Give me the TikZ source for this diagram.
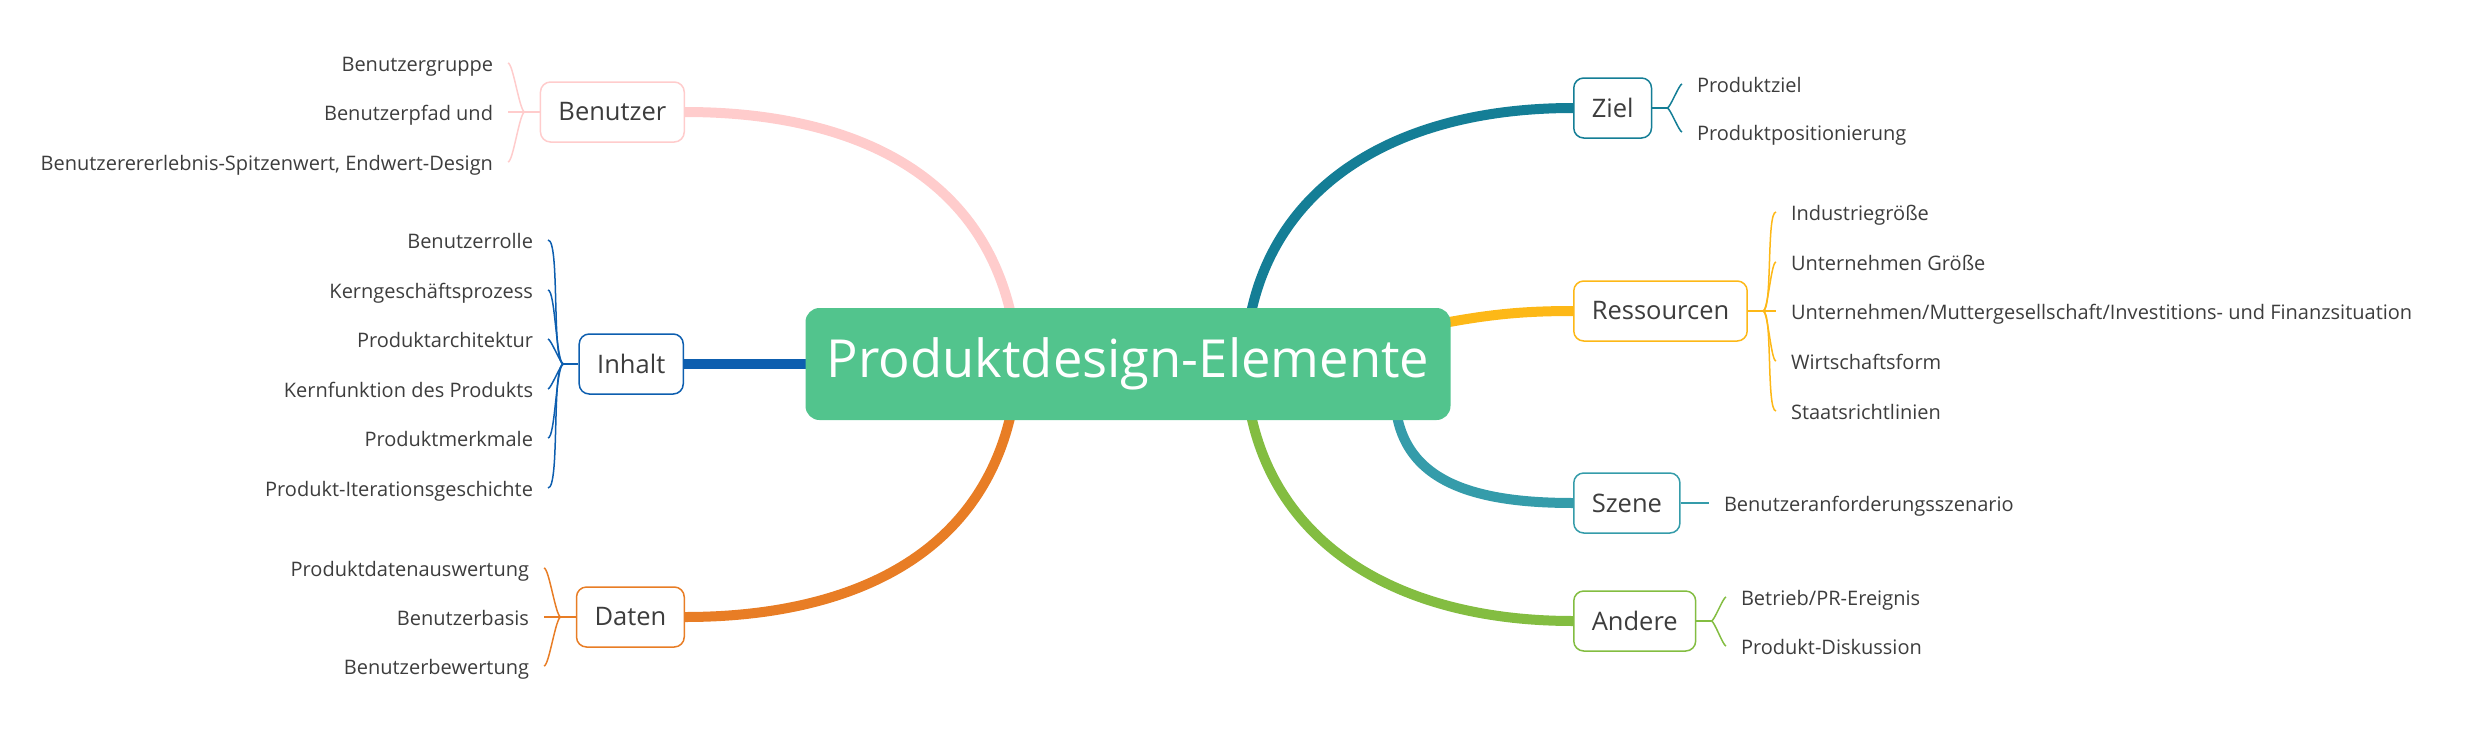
\documentclass[tikz,border=0pt]{standalone}
\usepackage{fontspec}
\setmainfont{Open Sans}
\usetikzlibrary{calc,backgrounds}

\definecolor{coregreen}{HTML}{52C48D}
\definecolor{inkgray}{HTML}{3D3D3D}
\definecolor{benutzerpink}{HTML}{FFCCCC}
\definecolor{inhaltblue}{HTML}{0D5EAF}
\definecolor{datenorange}{HTML}{E87D25}
\definecolor{zielteal}{HTML}{147E96}
\definecolor{ressourcengold}{HTML}{FDB817}
\definecolor{szenecyan}{HTML}{359CAA}
\definecolor{anderegreen}{HTML}{83BD41}

\tikzset{
  core/.style={fill=coregreen, text=white, rounded corners=14pt, minimum width=645pt, minimum height=112pt, font=\fontsize{52.5}{60}\selectfont},
  topic/.style={draw=#1, fill=white, text=inkgray, line width=1.5pt, rounded corners=10pt, minimum height=60pt, inner xsep=18pt, font=\fontsize{25.5}{30}\selectfont},
  ltopic/.style={topic=#1, anchor=east},
  rtopic/.style={topic=#1, anchor=west},
  leaf/.style={text=inkgray, inner sep=0pt, outer xsep=15pt, text height=19pt, text depth=2pt, font=\fontsize{20}{24}\selectfont},
  lleaf/.style={leaf, anchor=east},
  rleaf/.style={leaf, anchor=west},
  branch/.style={draw=#1, line width=10pt, line cap=round},
  twig/.style={draw=#1, line width=1.5pt},
  lfork/.style={out=180, in=0, looseness=0.25},
  rfork/.style={out=0, in=180, looseness=0.25},
}

\begin{document}
\begin{tikzpicture}[x=1pt,y=-1pt]
\useasboundingbox (0,0) rectangle (2478,744);

\node[core] (core) at (1128,364) {Produktdesign-Elemente};

\node[ltopic=benutzerpink] (benutzer) at (685,112) {Benutzer};
\node[ltopic=inhaltblue] (inhalt) at (684,364) {Inhalt};
\node[ltopic=datenorange] (daten) at (685,617) {Daten};
\node[rtopic=zielteal] (ziel) at (1573,108) {Ziel};
\node[rtopic=ressourcengold] (ressourcen) at (1573,311) {Ressourcen};
\node[rtopic=szenecyan] (szene) at (1573,503) {Szene};
\node[rtopic=anderegreen] (andere) at (1573,621) {Andere};

% thick branches behind the boxes
\begin{scope}[on background layer]
\draw[branch=benutzerpink] ($(core.center)+(-110,0)$) .. controls +(-12,-184) and +(175,0) .. (benutzer.east);
\draw[branch=inhaltblue] (core.center) -- (inhalt.center);
\draw[branch=datenorange] ($(core.center)+(-110,0)$) .. controls +(-12,184) and +(175,0) .. (daten.east);
\draw[branch=zielteal] ($(core.center)+(117,0)$) .. controls +(5,-164) and +(-193,0) .. (ziel.west);
\draw[branch=ressourcengold] ($(core.center)+(290,-36)$) .. controls +(60,-12) and +(-60,0) .. (ressourcen.west);
\draw[branch=szenecyan] ($(core.center)+(267,36)$) .. controls +(5,80) and +(-103,0) .. (szene.west);
\draw[branch=anderegreen] ($(core.center)+(117,0)$) .. controls +(5,164) and +(-193,0) .. (andere.west);
\end{scope}

% Benutzer
\node[lleaf] (b1) at (508,63) {Benutzergruppe};
\node[lleaf] (b2) at (508,112) {Benutzerpfad und};
\node[lleaf] (b3) at (508,162) {Benutzerererlebnis-Spitzenwert, Endwert-Design};
\coordinate (bsplit) at ($(benutzer.west)+(-15,0)$);
\draw[twig=benutzerpink] (benutzer) -- (bsplit);
\path[twig=benutzerpink] (bsplit) edge[lfork] (b1) edge[lfork] (b2) edge[lfork] (b3);

% Inhalt
\node[lleaf] (i1) at (548,240) {Benutzerrolle};
\node[lleaf] (i2) at (548,290) {Kerngeschäftsprozess};
\node[lleaf] (i3) at (548,339) {Produktarchitektur};
\node[lleaf] (i4) at (548,389) {Kernfunktion des Produkts};
\node[lleaf] (i5) at (548,438) {Produktmerkmale};
\node[lleaf] (i6) at (548,488) {Produkt-Iterationsgeschichte};
\coordinate (isplit) at ($(inhalt.west)+(-15,0)$);
\draw[twig=inhaltblue] (inhalt) -- (isplit);
\path[twig=inhaltblue] (isplit) edge[lfork] (i1) edge[lfork] (i2) edge[lfork] (i3)
  edge[lfork] (i4) edge[lfork] (i5) edge[lfork] (i6);

% Daten
\node[lleaf] (d1) at (544,568) {Produktdatenauswertung};
\node[lleaf] (d2) at (544,617) {Benutzerbasis};
\node[lleaf] (d3) at (544,666) {Benutzerbewertung};
\coordinate (dsplit) at ($(daten.west)+(-15,0)$);
\draw[twig=datenorange] (daten) -- (dsplit);
\path[twig=datenorange] (dsplit) edge[lfork] (d1) edge[lfork] (d2) edge[lfork] (d3);

% Ziel
\node[rleaf] (z1) at (1682,84) {Produktziel};
\node[rleaf] (z2) at (1682,132) {Produktpositionierung};
\coordinate (zsplit) at ($(ziel.east)+(15,0)$);
\draw[twig=zielteal] (ziel) -- (zsplit);
\path[twig=zielteal] (zsplit) edge[rfork] (z1) edge[rfork] (z2);

% Ressourcen
\node[rleaf] (r1) at (1776,212) {Industriegröße};
\node[rleaf] (r2) at (1776,262) {Unternehmen Größe};
\node[rleaf] (r3) at (1776,311) {Unternehmen/Muttergesellschaft/Investitions- und Finanzsituation};
\node[rleaf] (r4) at (1776,361) {Wirtschaftsform};
\node[rleaf] (r5) at (1776,411) {Staatsrichtlinien};
\coordinate (rsplit) at ($(ressourcen.east)+(15,0)$);
\draw[twig=ressourcengold] (ressourcen) -- (rsplit);
\path[twig=ressourcengold] (rsplit) edge[rfork] (r1) edge[rfork] (r2) edge[rfork] (r3)
  edge[rfork] (r4) edge[rfork] (r5);

% Szene
\node[rleaf] (s1) at (1709,503) {Benutzeranforderungsszenario};
\draw[twig=szenecyan] (szene) -- (s1);

% Andere
\node[rleaf] (a1) at (1726,597) {Betrieb/PR-Ereignis};
\node[rleaf] (a2) at (1726,646) {Produkt-Diskussion};
\coordinate (asplit) at ($(andere.east)+(15,0)$);
\draw[twig=anderegreen] (andere) -- (asplit);
\path[twig=anderegreen] (asplit) edge[rfork] (a1) edge[rfork] (a2);

\end{tikzpicture}
\end{document}
